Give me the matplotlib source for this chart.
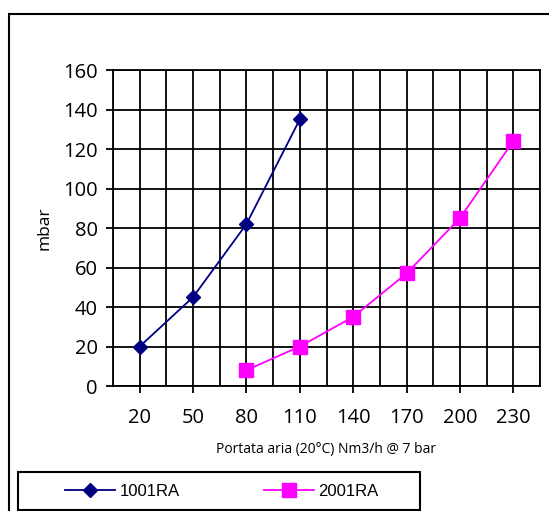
import matplotlib
matplotlib.use("Agg")
import matplotlib.pyplot as plt
from matplotlib.patches import Rectangle
from matplotlib.ticker import FixedLocator
import numpy as np

# data
categories = ["20", "50", "80", "110", "140", "170", "200", "230"]
series_1001 = [20, 45, 82, 135, None, None, None, None]
series_2001 = [None, None, 8, 20, 35, 57, 85, 124]
y_ticks = [0, 20, 40, 60, 80, 100, 120, 140, 160]

W, H = 549, 511
fig = plt.figure(figsize=(W / 100, H / 100), dpi=100)
fig.patch.set_facecolor("white")

# outer chart border (cropped on right/bottom like the reference)
fig.patches.append(Rectangle((9 / W, -0.1), 1.2, (511 - 14) / H + 0.1,
                             transform=fig.transFigure, fill=False,
                             edgecolor="black", linewidth=1.5))

ax = fig.add_axes([113 / W, (H - 386) / H, (540 - 113) / W, (386 - 70) / H])
x = np.arange(len(categories))


def to_arr(vals):
    return np.array([np.nan if v is None else v for v in vals], dtype=float)


l1, = ax.plot(x, to_arr(series_1001), color="#000080", linewidth=1.3,
              marker="D", markersize=7.5, label="1001RA")
l2, = ax.plot(x, to_arr(series_2001), color="#FF00FF", linewidth=1.3,
              marker="s", markersize=9.5, label="2001RA")

ax.set_xlim(-0.5, len(categories) - 0.5)
ax.set_ylim(0, 160)
ax.set_yticks(y_ticks)
ax.set_xticks(x)
ax.set_xticklabels(categories)
ax.xaxis.set_minor_locator(FixedLocator(np.arange(-0.5, len(categories), 1.0)))

ax.grid(True, which="major", color="black", linewidth=1.3)
ax.grid(True, which="minor", axis="x", color="black", linewidth=1.3)
ax.tick_params(axis="x", which="minor", length=0)
ax.tick_params(axis="both", which="major", length=5, width=1.3,
               labelsize=14.5)
ax.tick_params(axis="x", pad=11)
ax.tick_params(axis="y", pad=6)
for lab in ax.get_xticklabels() + ax.get_yticklabels():
    lab.set_fontfamily("Open Sans")
for sp in ax.spines.values():
    sp.set_linewidth(1.3)
ax.set_axisbelow(True)

ax.set_ylabel("mbar", fontsize=12.5, family="Open Sans")
ax.yaxis.set_label_coords((52 - 113) / (540 - 113), 0.5)
fig.text(326 / W, 1 - 450 / H, "Portata aria (20°C) Nm3/h @ 7 bar",
         ha="center", va="center", fontsize=10, family="Open Sans")

# legend: frame drawn separately, entries centred inside
fig.patches.append(Rectangle((18 / W, 1 - 510 / H), (420 - 18) / W, 38 / H,
                             transform=fig.transFigure, fill=False,
                             edgecolor="black", linewidth=1.5))
fig.legend(handles=[l1, l2], loc="center", ncol=2,
           bbox_to_anchor=(222 / W, 1 - 491 / H), frameon=False,
           prop={"family": "Liberation Sans", "size": 12},
           handlelength=3.0, handletextpad=0.3, columnspacing=5.0,
           borderpad=0.2)

fig.savefig("out.png", dpi=100)
